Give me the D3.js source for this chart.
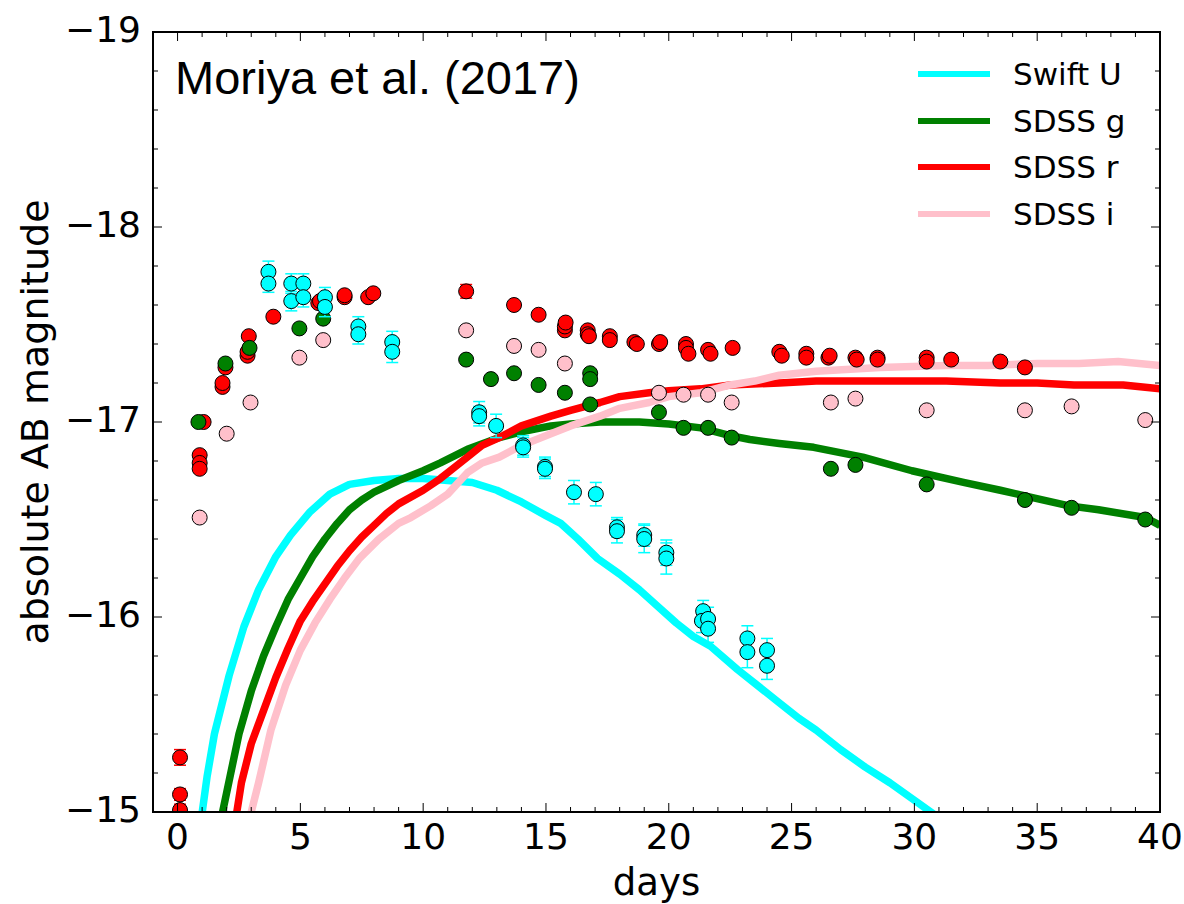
<!DOCTYPE html>
<html>
<head>
<meta charset="utf-8">
<script src="https://cdn.jsdelivr.net/npm/d3@7"></script>
<style>
  html, body { margin: 0; padding: 0; background: #fff; }
  svg { display: block; }
</style>
</head>
<body>
<div id="chart"></div>
<script>
// ---- observed photometry: [day, absolute AB magnitude, error] ----
const swiftU = [
  [3.7, -17.77, 0.055], [3.7, -17.71, 0.045],
  [4.63, -17.71, 0.05], [4.63, -17.62, 0.05],
  [5.12, -17.71, 0.05], [5.12, -17.64, 0.05],
  [6.0, -17.64, 0.05], [6.0, -17.59, 0.05],
  [7.36, -17.49, 0.05], [7.36, -17.45, 0.05],
  [8.74, -17.41, 0.055], [8.74, -17.36, 0.055],
  [12.28, -17.05, 0.055], [12.28, -17.03, 0.05],
  [12.97, -16.98, 0.06],
  [14.07, -16.88, 0.05], [14.07, -16.87, 0.05],
  [14.96, -16.77, 0.05], [14.96, -16.76, 0.05],
  [16.14, -16.64, 0.06],
  [17.03, -16.63, 0.06],
  [17.89, -16.46, 0.05], [17.89, -16.44, 0.06],
  [19.0, -16.42, 0.057], [19.0, -16.40, 0.07],
  [19.9, -16.33, 0.065], [19.9, -16.30, 0.08],
  [21.4, -16.03, 0.055], [21.35, -15.98, 0.06],
  [21.6, -15.99, 0.06], [21.6, -15.94, 0.07],
  [23.2, -15.89, 0.065], [23.2, -15.82, 0.08],
  [24.0, -15.83, 0.06], [24.0, -15.75, 0.07]
];

const sdssG = [
  [0.85, -17.0, 0], [1.95, -17.30, 0], [2.93, -17.38, 0], [4.96, -17.48, 0],
  [5.93, -17.53, 0], [11.75, -17.32, 0], [12.76, -17.22, 0], [13.7, -17.25, 0],
  [14.7, -17.19, 0], [15.77, -17.15, 0], [16.8, -17.25, 0], [16.8, -17.22, 0],
  [16.8, -17.09, 0], [19.6, -17.05, 0], [20.6, -16.97, 0], [21.6, -16.97, 0],
  [22.56, -16.92, 0], [26.6, -16.76, 0], [27.6, -16.78, 0], [30.5, -16.68, 0],
  [34.5, -16.60, 0], [36.4, -16.56, 0], [39.4, -16.50, 0]
];

const sdssR = [
  [0.1, -15.28, 0.04], [0.1, -15.09, 0.03], [0.1, -15.01, 0.03],
  [0.9, -16.83, 0], [0.9, -16.79, 0], [0.9, -16.76, 0], [1.06, -17.0, 0],
  [1.83, -17.18, 0], [1.83, -17.2, 0], [1.95, -17.28, 0],
  [2.85, -17.34, 0], [2.85, -17.36, 0], [2.9, -17.44, 0], [3.9, -17.54, 0],
  [5.73, -17.61, 0], [5.8, -17.62, 0], [6.8, -17.64, 0], [6.8, -17.65, 0],
  [7.76, -17.64, 0], [7.97, -17.66, 0],
  [11.75, -17.67, 0.035], [13.7, -17.60, 0], [14.7, -17.55, 0],
  [15.77, -17.47, 0], [15.77, -17.49, 0], [15.8, -17.51, 0],
  [16.7, -17.47, 0], [16.7, -17.45, 0], [16.75, -17.44, 0],
  [17.6, -17.44, 0], [17.6, -17.42, 0], [18.6, -17.41, 0], [18.7, -17.40, 0],
  [19.6, -17.40, 0], [19.65, -17.41, 0],
  [20.7, -17.40, 0], [20.7, -17.38, 0], [20.8, -17.35, 0],
  [21.6, -17.37, 0], [21.7, -17.35, 0], [22.6, -17.38, 0],
  [24.5, -17.36, 0], [24.6, -17.34, 0], [25.6, -17.35, 0], [25.6, -17.33, 0],
  [26.5, -17.33, 0], [26.55, -17.34, 0], [27.6, -17.33, 0], [27.65, -17.32, 0],
  [28.5, -17.33, 0], [28.5, -17.32, 0], [30.5, -17.33, 0], [30.5, -17.31, 0],
  [31.5, -17.32, 0], [33.5, -17.31, 0], [34.5, -17.28, 0]
];

const sdssI = [
  [0.9, -16.51, 0], [2.0, -16.94, 0], [2.97, -17.10, 0], [4.96, -17.33, 0],
  [5.93, -17.42, 0], [11.75, -17.47, 0], [13.7, -17.39, 0], [14.7, -17.37, 0],
  [15.77, -17.30, 0], [19.6, -17.15, 0], [20.6, -17.14, 0], [21.6, -17.14, 0],
  [22.56, -17.10, 0], [26.6, -17.10, 0], [27.6, -17.12, 0], [30.5, -17.06, 0],
  [34.5, -17.06, 0], [36.4, -17.08, 0], [39.4, -17.01, 0]
];

// ---- model light curves (Moriya et al. 2017): [day, magnitude] ----
const modelU = [
  [0.95, -14.95], [1.2, -15.18], [1.5, -15.4], [2.1, -15.7], [2.7, -15.95],
  [3.3, -16.14], [4.0, -16.31], [4.6, -16.42], [5.4, -16.54], [6.2, -16.63],
  [7.0, -16.68], [8, -16.70], [9, -16.71], [10, -16.71], [11, -16.70],
  [12, -16.69], [13, -16.65], [14, -16.59], [15, -16.52], [15.6, -16.48],
  [16.3, -16.40], [17.1, -16.30], [18, -16.22], [18.8, -16.14], [19.5, -16.06],
  [20.3, -15.97], [21, -15.9], [21.7, -15.85], [22.8, -15.73], [23.5, -15.66],
  [24.4, -15.57], [25.3, -15.48], [26, -15.42], [27, -15.32], [28, -15.23],
  [29, -15.15], [30, -15.06], [31, -14.97]
];

const modelG = [
  [1.75, -14.95], [2.0, -15.1], [2.5, -15.4], [3.0, -15.62], [3.5, -15.8],
  [4.0, -15.95], [4.5, -16.09], [5.0, -16.2], [5.5, -16.31], [6.0, -16.4],
  [6.5, -16.48], [7.0, -16.55], [7.5, -16.6], [8, -16.64], [8.5, -16.67],
  [9.0, -16.70], [10, -16.75], [10.7, -16.79], [11.8, -16.86], [13.1, -16.92],
  [14, -16.95], [15.2, -16.98], [16, -16.99], [17.2, -17.0], [18.8, -17.0],
  [20, -16.99], [21.3, -16.97], [22.5, -16.93], [23.3, -16.91], [24.5, -16.89],
  [25.9, -16.87], [27.9, -16.82], [29.9, -16.75], [32, -16.69], [33.5, -16.65],
  [34.9, -16.61], [36.3, -16.57], [37.5, -16.55], [39.4, -16.51], [40, -16.47]
];

const modelR = [
  [2.35, -14.95], [2.6, -15.15], [3.0, -15.35], [3.5, -15.52], [4.0, -15.69],
  [4.5, -15.84], [5.0, -15.98], [5.5, -16.08], [6.0, -16.17], [6.5, -16.26],
  [7.0, -16.34], [7.5, -16.41], [8, -16.47], [8.5, -16.53], [9.0, -16.58],
  [10, -16.65], [10.7, -16.71], [11.3, -16.77], [11.8, -16.82], [12.4, -16.88],
  [13.1, -16.92], [14, -16.98], [15.2, -17.03], [16, -17.06], [17.2, -17.10],
  [18, -17.13], [19.2, -17.15], [20, -17.16], [21.3, -17.17], [22.5, -17.19],
  [24.5, -17.20], [26, -17.21], [28.6, -17.21], [31.3, -17.21], [33.5, -17.20],
  [35, -17.20], [36.5, -17.19], [37.5, -17.19], [38.5, -17.19], [40, -17.17]
];

const modelI = [
  [2.9, -14.95], [3.3, -15.15], [3.8, -15.42], [4.4, -15.65], [5.0, -15.83],
  [5.6, -15.97], [6.2, -16.09], [6.8, -16.2], [7.4, -16.3], [8.2, -16.4],
  [9.0, -16.48], [9.5, -16.51], [10.3, -16.57], [11.0, -16.63], [11.8, -16.74],
  [12.4, -16.79], [13.1, -16.82], [14, -16.88], [15.2, -16.94], [16, -16.98],
  [17.2, -17.03], [18, -17.07], [19.2, -17.10], [20, -17.13], [21.3, -17.15],
  [22.5, -17.19], [23.5, -17.21], [24.5, -17.24], [26, -17.26], [28.6, -17.28],
  [31.3, -17.29], [33, -17.29], [35, -17.30], [36.7, -17.30], [38.3, -17.31], [40, -17.29]
];

const xTicks = [0, 5, 10, 15, 20, 25, 30, 35, 40];
const yTicks = [-19, -18, -17, -16, -15];
const legendLabels = ["Swift U", "SDSS g", "SDSS r", "SDSS i"];
const bandColors = ["#00ffff", "#008000", "#ff0000", "#ffc0cb"];
const titleText = "Moriya et al. (2017)";

// ---- layout ----
const W = 1184, H = 904;
const plot = { left: 153, right: 1160, top: 32, bottom: 812 };

const svg = d3.select("#chart").append("svg")
  .attr("width", W).attr("height", H)
  .style("font-family", "'DejaVu Sans', sans-serif");

svg.append("rect").attr("width", W).attr("height", H).attr("fill", "#fff");

const x = d3.scaleLinear().domain([-1, 40]).range([plot.left, plot.right]);
const y = d3.scaleLinear().domain([-19, -15]).range([plot.top, plot.bottom]);

svg.append("defs").append("clipPath").attr("id", "plotClip")
  .append("rect")
  .attr("x", plot.left).attr("y", plot.top)
  .attr("width", plot.right - plot.left).attr("height", plot.bottom - plot.top);

const g = svg.append("g").attr("clip-path", "url(#plotClip)");

// model curves
const line = d3.line().x(d => x(d[0])).y(d => y(d[1]));
[modelU, modelG, modelR, modelI].forEach((m, i) => {
  g.append("path").datum(m)
    .attr("d", line)
    .attr("fill", "none")
    .attr("stroke", bandColors[i])
    .attr("stroke-width", 7.5)
    .attr("stroke-linejoin", "round");
});

// observed points with error bars
function drawPoints(data, color) {
  const grp = g.append("g");
  const withErr = data.filter(d => d[2] > 0);
  const eb = grp.selectAll("g.err").data(withErr).join("g").attr("class", "err")
    .attr("stroke", color).attr("stroke-width", 1.5);
  eb.append("line")
    .attr("x1", d => x(d[0])).attr("x2", d => x(d[0]))
    .attr("y1", d => y(d[1] - d[2])).attr("y2", d => y(d[1] + d[2]));
  eb.append("line")
    .attr("x1", d => x(d[0]) - 6).attr("x2", d => x(d[0]) + 6)
    .attr("y1", d => y(d[1] - d[2])).attr("y2", d => y(d[1] - d[2]));
  eb.append("line")
    .attr("x1", d => x(d[0]) - 6).attr("x2", d => x(d[0]) + 6)
    .attr("y1", d => y(d[1] + d[2])).attr("y2", d => y(d[1] + d[2]));
  grp.selectAll("circle").data(data).join("circle")
    .attr("cx", d => x(d[0])).attr("cy", d => y(d[1]))
    .attr("r", 7.5)
    .attr("fill", color)
    .attr("stroke", "#000")
    .attr("stroke-width", 1);
}
drawPoints(sdssR, bandColors[2]);
drawPoints(sdssG, bandColors[1]);
drawPoints(sdssI, bandColors[3]);
drawPoints(swiftU, bandColors[0]);

// ticks on all four sides, pointing inward
const axes = svg.append("g").attr("stroke", "#000").attr("stroke-width", 1);
const xMinor = d3.range(0, 41, 1);
const yMinor = d3.range(0, 21).map(i => -19 + i * 0.2);
xMinor.forEach(v => {
  const len = xTicks.includes(v) ? 9 : 5;
  axes.append("line").attr("x1", x(v)).attr("x2", x(v))
    .attr("y1", plot.bottom).attr("y2", plot.bottom - len);
  axes.append("line").attr("x1", x(v)).attr("x2", x(v))
    .attr("y1", plot.top).attr("y2", plot.top + len);
});
yMinor.forEach(v => {
  const major = Math.abs(v - Math.round(v)) < 1e-6;
  const len = major ? 9 : 5;
  axes.append("line").attr("y1", y(v)).attr("y2", y(v))
    .attr("x1", plot.left).attr("x2", plot.left + len);
  axes.append("line").attr("y1", y(v)).attr("y2", y(v))
    .attr("x1", plot.right).attr("x2", plot.right - len);
});

// frame
svg.append("rect")
  .attr("x", plot.left).attr("y", plot.top)
  .attr("width", plot.right - plot.left).attr("height", plot.bottom - plot.top)
  .attr("fill", "none").attr("stroke", "#000").attr("stroke-width", 2);

// tick labels
const fmt = v => (v < 0 ? "\u2212" + Math.abs(v) : String(v));
svg.append("g").selectAll("text").data(xTicks).join("text")
  .attr("x", d => x(d)).attr("y", plot.bottom + 37)
  .attr("text-anchor", "middle")
  .attr("font-size", 36)
  .text(fmt);
svg.append("g").selectAll("text").data(yTicks).join("text")
  .attr("x", plot.left - 12).attr("y", d => y(d) + 10)
  .attr("text-anchor", "end")
  .attr("font-size", 36)
  .text(fmt);

// axis titles
svg.append("text")
  .attr("x", (plot.left + plot.right) / 2).attr("y", 895)
  .attr("text-anchor", "middle").attr("font-size", 37)
  .text("days");
svg.append("text")
  .attr("transform", `translate(48,${(plot.top + plot.bottom) / 2}) rotate(-90)`)
  .attr("text-anchor", "middle").attr("font-size", 38)
  .text("absolute AB magnitude");

// annotation
svg.append("text")
  .attr("x", 175).attr("y", 94)
  .attr("font-family", "'Liberation Sans', Arial, sans-serif")
  .attr("font-size", 47)
  .text(titleText);

// legend
const legendY = [74, 121, 167, 214];
legendLabels.forEach((lab, i) => {
  svg.append("line")
    .attr("x1", 918).attr("x2", 990)
    .attr("y1", legendY[i]).attr("y2", legendY[i])
    .attr("stroke", bandColors[i]).attr("stroke-width", 6);
  svg.append("text")
    .attr("x", 1013).attr("y", legendY[i] + 11)
    .attr("font-size", 31)
    .text(lab);
});
</script>
</body>
</html>
